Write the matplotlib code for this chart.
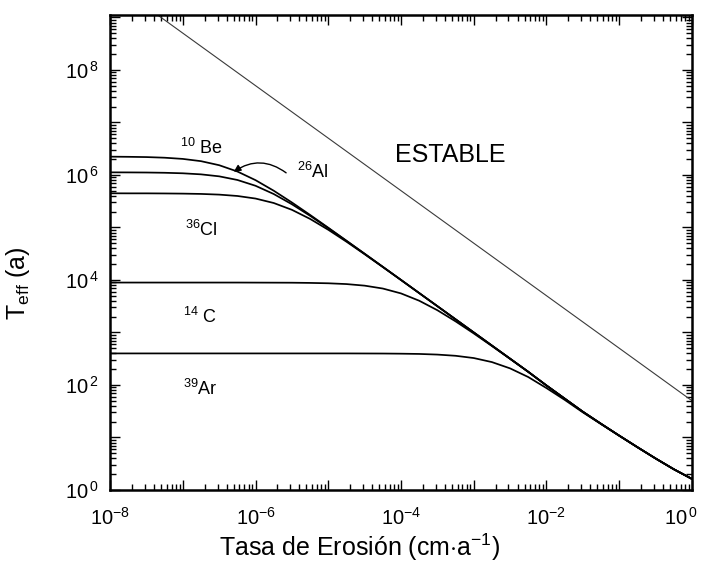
import numpy as np
import matplotlib
matplotlib.use("Agg")
import matplotlib.pyplot as plt
from matplotlib.ticker import LogLocator, FuncFormatter, NullFormatter

plt.rcParams['font.family'] = ['Liberation Sans', 'DejaVu Sans']
plt.rcParams['mathtext.fontset'] = 'custom'
plt.rcParams['mathtext.rm'] = 'Liberation Sans'
plt.rcParams['mathtext.it'] = 'Liberation Sans:italic'
plt.rcParams['mathtext.bf'] = 'Liberation Sans:bold'
plt.rcParams['mathtext.sf'] = 'Liberation Sans'

# ---- data (log10 values) ----
log_erosion = [-8.0, -7.75, -7.5, -7.25, -7.0, -6.75, -6.5, -6.25, -6.0, -5.75,
               -5.5, -5.25, -5.0, -4.75, -4.5, -4.25, -4.0, -3.75, -3.5, -3.25,
               -3.0, -2.75, -2.5, -2.25, -2.0, -1.75, -1.5, -1.25, -1.0, -0.75,
               -0.5, -0.25, 0.0]

log_T_be10 = [6.348, 6.345, 6.340, 6.328, 6.305, 6.262, 6.185, 6.065, 5.900, 5.699,
              5.475, 5.238, 4.994, 4.747, 4.499, 4.250, 4.0, 3.75, 3.5, 3.25,
              3.0, 2.75, 2.5, 2.25, 1.99, 1.74, 1.49, 1.26, 1.035, 0.815,
              0.60, 0.395, 0.21]

log_T_al26 = [6.049, 6.048, 6.046, 6.041, 6.031, 6.011, 5.973, 5.904, 5.793, 5.636,
              5.441, 5.221, 4.986, 4.743, 4.497, 4.248, 4.0, 3.75, 3.5, 3.25,
              3.0, 2.75, 2.5, 2.25, 1.99, 1.74, 1.49, 1.26, 1.035, 0.815,
              0.60, 0.395, 0.21]

log_T_cl36 = [5.650, 5.649, 5.649, 5.647, 5.644, 5.638, 5.625, 5.599, 5.550, 5.465,
              5.335, 5.162, 4.955, 4.728, 4.489, 4.245, 3.998, 3.749, 3.5, 3.25,
              3.0, 2.75, 2.5, 2.25, 1.99, 1.74, 1.49, 1.26, 1.035, 0.815,
              0.60, 0.395, 0.21]

log_T_c14 = [3.950, 3.950, 3.950, 3.950, 3.950, 3.950, 3.950, 3.950, 3.949, 3.948,
             3.947, 3.943, 3.936, 3.921, 3.891, 3.836, 3.743, 3.604, 3.423, 3.211,
             2.981, 2.741, 2.496, 2.248, 1.989, 1.740, 1.49, 1.26, 1.035, 0.815,
             0.60, 0.395, 0.21]

log_T_ar39 = [2.600, 2.600, 2.600, 2.600, 2.600, 2.600, 2.600, 2.600, 2.600, 2.600,
              2.600, 2.600, 2.600, 2.600, 2.599, 2.598, 2.595, 2.590, 2.578, 2.555,
              2.512, 2.435, 2.315, 2.150, 1.940, 1.716, 1.478, 1.254, 1.032, 0.813,
              0.599, 0.395, 0.21]

log_erosion_stable = [-8.0, -6.0, -4.0, -2.0, 0.0]
log_T_stable = [9.70, 7.70, 5.70, 3.70, 1.70]

labels = {
    'be10': r'$^{10}$ Be',
    'al26': r'$^{26}$Al',
    'cl36': r'$^{36}$Cl',
    'c14': r'$^{14}$ C',
    'ar39': r'$^{39}$Ar',
    'stable': 'ESTABLE',
}

# ---- figure ----
fig = plt.figure(figsize=(7.06, 5.71), dpi=100)
ax = fig.add_axes([0.156, 0.142, 0.824, 0.832])

x = 10.0 ** np.array(log_erosion)
for series in (log_T_be10, log_T_al26, log_T_cl36, log_T_c14, log_T_ar39):
    ax.plot(x, 10.0 ** np.array(series), color='black', lw=1.25,
            solid_capstyle='round', solid_joinstyle='round')
ax.plot(10.0 ** np.array(log_erosion_stable), 10.0 ** np.array(log_T_stable),
        color='#3a3a3a', lw=0.8)

ax.set_xscale('log')
ax.set_yscale('log')
ax.set_xlim(1e-8, 1)
ax.set_ylim(1, 1.12e9)

TICK_FS = 14.5
X_PAD = 12

def even_fmt_x(v, pos):
    e = int(round(np.log10(v)))
    if e % 2 != 0 or e == 0:   # 10^0 drawn separately so it stays inside the figure
        return ''
    return r'$10^{%d}$' % e

def even_fmt_y(v, pos):
    e = int(round(np.log10(v)))
    if e % 2 != 0:
        return ''
    return r'$10^{\,%d}$' % e

for axis, fmt in ((ax.xaxis, even_fmt_x), (ax.yaxis, even_fmt_y)):
    axis.set_major_locator(LogLocator(base=10, numticks=30))
    axis.set_minor_locator(LogLocator(base=10, subs=np.arange(2, 10), numticks=30))
    axis.set_major_formatter(FuncFormatter(fmt))
    axis.set_minor_formatter(NullFormatter())

ax.tick_params(which='both', direction='in', top=True, right=True, width=1.0)
ax.tick_params(which='major', length=7, labelsize=TICK_FS)
ax.tick_params(which='minor', length=4)
ax.tick_params(axis='x', which='major', pad=X_PAD)
ax.tick_params(axis='y', which='major', pad=8)
for sp in ax.spines.values():
    sp.set_linewidth(1.8)

ax.annotate(r'$10^{\,0}$', xy=(1.0, 0.0), xycoords=('data', 'axes fraction'),
            xytext=(4.5, -X_PAD), textcoords='offset points',
            ha='right', va='top', fontsize=TICK_FS)

ax.set_xlabel(r'Tasa de Erosión (cm$\cdot$a$^{-1}$)', fontsize=18)
ax.xaxis.set_label_coords(0.428, -0.088)
ax.set_ylabel(r'T$_{\rm eff}$ (a)', fontsize=18)
ax.yaxis.set_label_coords(-0.134, 0.436)

# ---- annotations ----
ax.text(10**-6.74, 10**6.52, labels['be10'], fontsize=13, ha='center', va='center')
ax.text(10**-5.21, 10**6.05, labels['al26'], fontsize=13, ha='center', va='center')
ax.text(10**-6.74, 10**4.95, labels['cl36'], fontsize=13, ha='center', va='center')
ax.text(10**-6.76, 10**3.30, labels['c14'], fontsize=13, ha='center', va='center')
ax.text(10**-6.76, 10**1.92, labels['ar39'], fontsize=13, ha='center', va='center')
ax.text(10**-3.32, 10**6.38, labels['stable'], fontsize=18, ha='center', va='center')

ax.annotate('', xy=(10**-6.30, 10**6.06), xytext=(10**-5.58, 10**6.04),
            arrowprops=dict(arrowstyle='-|>', connectionstyle='arc3,rad=0.35',
                            color='black', lw=1.0, shrinkA=0, shrinkB=0,
                            mutation_scale=10))

fig.savefig('out.png', dpi=100)
